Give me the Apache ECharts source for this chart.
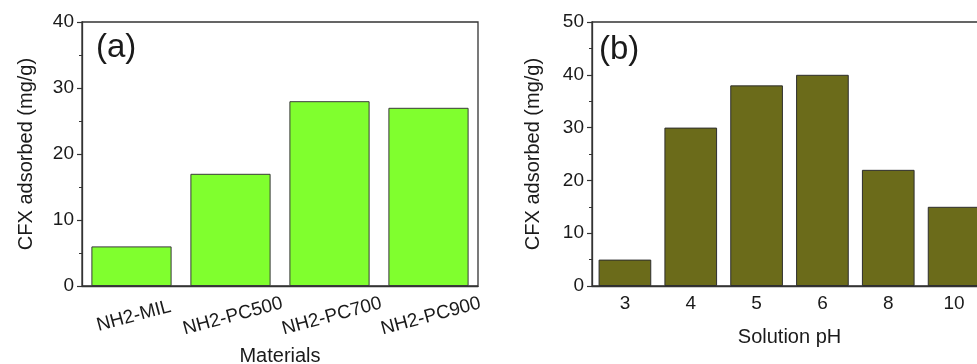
<!DOCTYPE html>
<html>
<head>
<meta charset="utf-8">
<script src="https://cdn.jsdelivr.net/npm/echarts@6/dist/echarts.min.js"></script>
<style>
html,body{margin:0;padding:0;background:#fff;}
#main{width:977px;height:364px;}
</style>
</head>
<body>
<div id="main"></div>
<script>
// ---- data ----
var materials = ['NH2-MIL', 'NH2-PC500', 'NH2-PC700', 'NH2-PC900'];
var materialValues = [6, 17, 28, 27];
var phLabels = ['3', '4', '5', '6', '8', '10'];
var phValues = [5, 30, 38, 40, 22, 15];
var yTicksA = [0, 10, 20, 30, 40];
var yTicksB = [0, 10, 20, 30, 40, 50];

var FONT = 'Liberation Sans, Arial, sans-serif';
var AX = '#333';
var TXT = '#1a1a1a';

function yAxisCfg(gridIndex, ticks, nameGap) {
  return {
    type: 'value', gridIndex: gridIndex,
    min: ticks[0], max: ticks[ticks.length - 1], interval: ticks[1] - ticks[0],
    name: 'CFX adsorbed (mg/g)', nameLocation: 'middle', nameGap: nameGap,
    nameTextStyle: {fontFamily: FONT, fontSize: 20, color: TXT},
    axisLine: {show: true, lineStyle: {color: AX, width: 1.3}},
    axisTick: {show: true, inside: false, length: 5, lineStyle: {color: AX, width: 1.2}},
    minorTick: {show: true, splitNumber: 2, length: 3, lineStyle: {color: AX, width: 1}},
    axisLabel: {fontFamily: FONT, fontSize: 19, color: TXT, margin: 8},
    splitLine: {show: false}
  };
}

var option = {
  backgroundColor: '#fff',
  animation: false,
  grid: [
    {left: 82, top: 22, width: 396, height: 264, show: true, borderColor: AX, borderWidth: 1.3, backgroundColor: 'transparent', outerBoundsMode: 'none', containLabel: false},
    {left: 592, top: 22, right: -10, height: 264, show: true, borderColor: AX, borderWidth: 1.3, backgroundColor: 'transparent', outerBoundsMode: 'none', containLabel: false}
  ],
  xAxis: [
    {
      type: 'category', gridIndex: 0, data: materials,
      name: 'Materials', nameLocation: 'middle', nameGap: 60,
      nameTextStyle: {fontFamily: FONT, fontSize: 20, color: TXT},
      axisLine: {lineStyle: {color: AX, width: 1.3}},
      axisTick: {alignWithLabel: true, length: 6, lineStyle: {color: AX, width: 1.2}},
      axisLabel: {fontFamily: FONT, fontSize: 19, color: TXT, rotate: 15, align: 'center', verticalAlign: 'top', margin: 21, interval: 0}
    },
    {
      type: 'category', gridIndex: 1, data: phLabels,
      name: 'Solution pH', nameLocation: 'middle', nameGap: 41,
      nameTextStyle: {fontFamily: FONT, fontSize: 20, color: TXT},
      axisLine: {lineStyle: {color: AX, width: 1.3}},
      axisTick: {alignWithLabel: true, length: 6, lineStyle: {color: AX, width: 1.2}},
      axisLabel: {fontFamily: FONT, fontSize: 19, color: TXT, margin: 8, interval: 0}
    }
  ],
  yAxis: [
    yAxisCfg(0, yTicksA, 46),
    yAxisCfg(1, yTicksB, 49)
  ],
  series: [
    {
      type: 'bar', xAxisIndex: 0, yAxisIndex: 0, data: materialValues,
      barCategoryGap: '19%',
      itemStyle: {color: '#80FF2E', borderColor: '#3a3a3a', borderWidth: 1}
    },
    {
      type: 'bar', xAxisIndex: 1, yAxisIndex: 1, data: phValues,
      barCategoryGap: '20%',
      itemStyle: {color: '#6B6B1A', borderColor: '#2e2e2e', borderWidth: 1}
    }
  ],
  graphic: [
    {type: 'text', left: 96, top: 31, style: {text: '(a)', fontFamily: FONT, fontSize: 33, fill: TXT}},
    {type: 'text', left: 599, top: 33, style: {text: '(b)', fontFamily: FONT, fontSize: 33, fill: TXT}}
  ]
};

var chart = echarts.init(document.getElementById('main'), null, {renderer: 'canvas'});
chart.setOption(option);
</script>
</body>
</html>
